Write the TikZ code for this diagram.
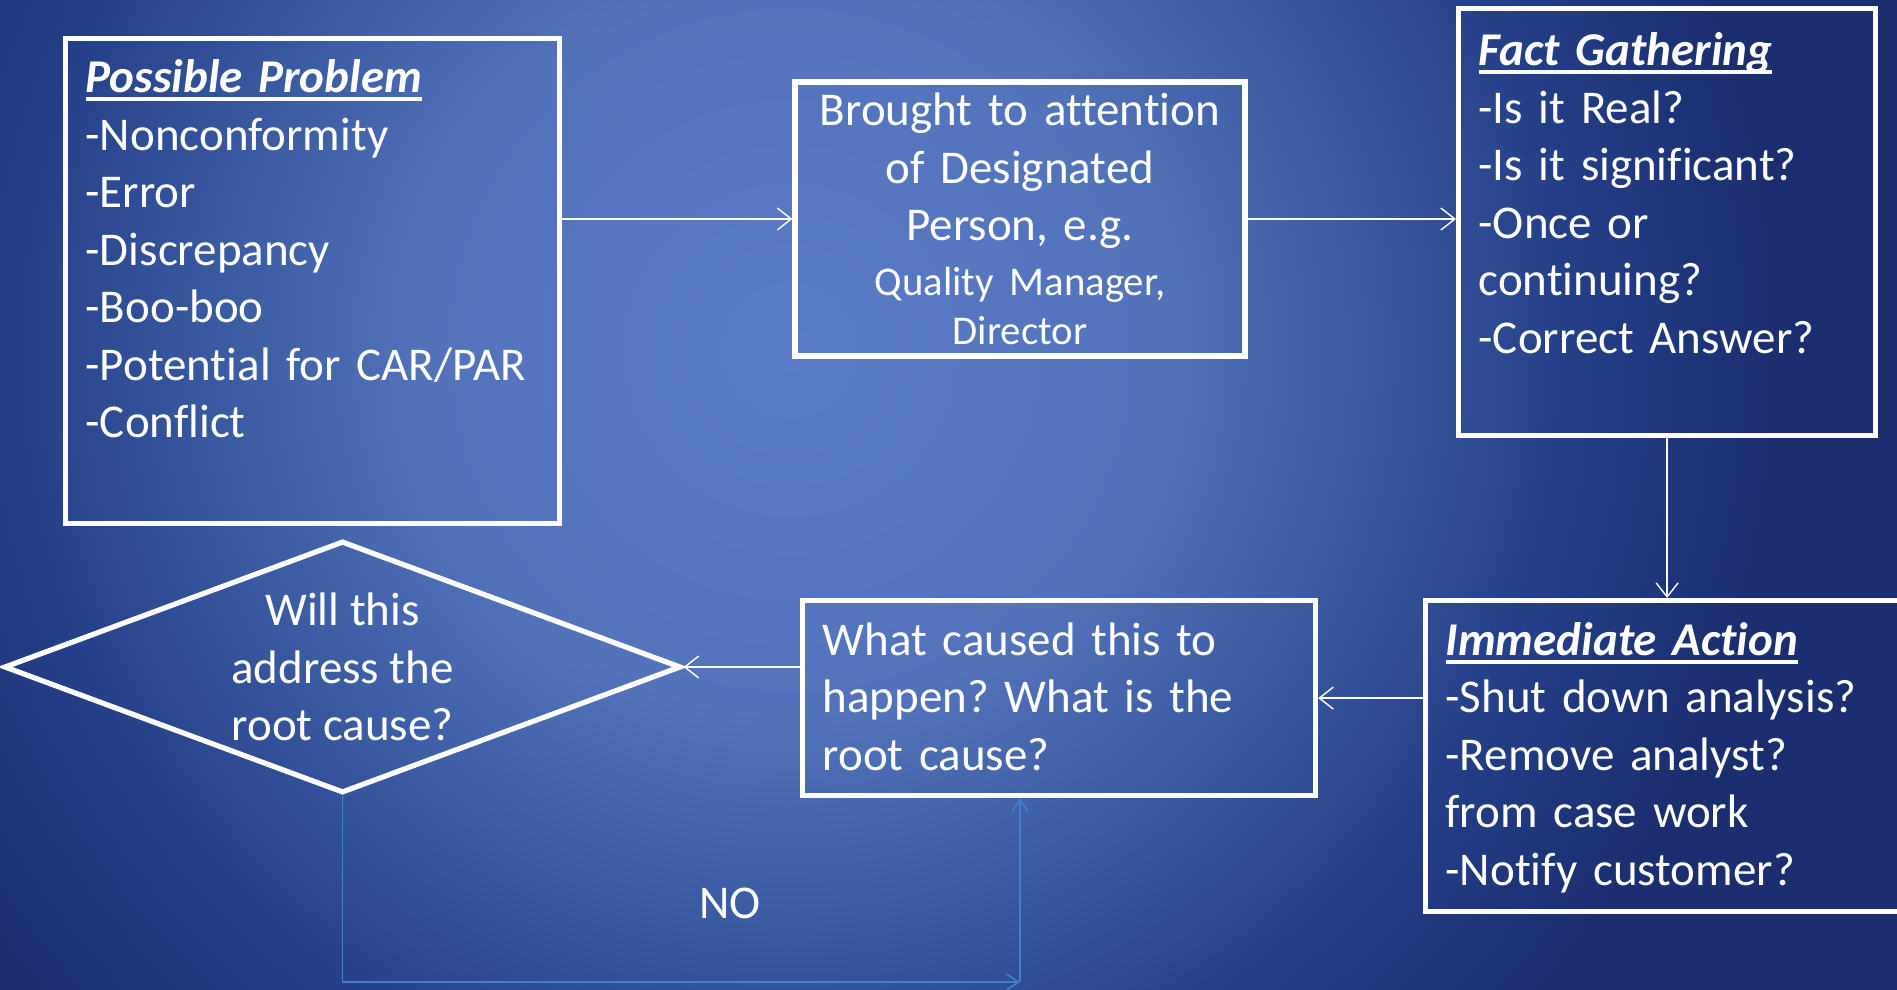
\documentclass[tikz,border=0pt]{standalone}
\usepackage{fontspec}
\setmainfont{Carlito}[Ligatures=NoCommon]
\usetikzlibrary{arrows.meta,shapes.geometric}
\definecolor{glowcore}{HTML}{5A7CC6}
\definecolor{glowmid}{HTML}{5272BA}
\definecolor{glowfade}{HTML}{3A5AA2}
\definecolor{glowedge}{HTML}{243F88}
\definecolor{glowdark}{HTML}{1B2E70}
\definecolor{noblue}{HTML}{3F82CC}
\pgfdeclareradialshading{slideglow}{\pgfpoint{0bp}{0bp}}{color(0bp)=(glowcore); color(7bp)=(glowmid); color(11bp)=(glowfade); color(15bp)=(glowedge); color(19bp)=(glowdark); color(50bp)=(glowdark)}
\newsavebox{\headbox}
\newcommand{\heading}[1]{\sbox{\headbox}{\bfseries\itshape #1}\rlap{\rule[-4.3pt]{\wd\headbox}{2.2pt}}\usebox{\headbox}}
\newcommand{\notefont}{\fontsize{20.4pt}{24pt}\selectfont}
\frenchspacing
\begin{document}
\begin{tikzpicture}[
  x=1pt, y=-1pt,
  panel/.style={draw=white, line width=2.6pt, inner xsep=10pt, inner ysep=10pt, anchor=north west, align=left, text=white, font=\fontsize{23.5pt}{28.75pt}\selectfont},
  decision/.style={diamond, draw=white, line width=2.6pt, minimum width=338.5pt, minimum height=126pt, inner sep=0pt},
  flow/.style={draw=white, line width=0.7pt, -{Straight Barb[length=7pt,width=11pt]}},
  noflow/.style={draw=noblue, line width=0.8pt, -{Straight Barb[length=6pt,width=8pt]}},
  tag/.style={text=white, align=center, font=\fontsize{23.5pt}{28.75pt}\selectfont}
]
\useasboundingbox (0,0) rectangle (948.5,495);
\begin{scope}
\clip (0,0) rectangle (948.5,495);
\shade[shading=slideglow] (-255,-475) rectangle (1045,825);
\end{scope}
\node[panel, text width=227pt, text height=17pt, text depth=205.5pt] (problem) at (31.5,18) {\heading{Possible Problem}\\-Nonconformity\\-Error\\-Discrepancy\\-Boo-boo\\-Potential for CAR/PAR\\-Conflict};
\node[panel, anchor=center, align=center, text width=205pt, inner ysep=2pt, minimum height=137pt] (notice) at (510,109.5) {Brought to attention\\of Designated\\Person, e.g.\\[-1.5pt]{\notefont Quality Manager,}\\[-4pt]{\notefont Director}};
\node[panel, text width=188.5pt, text height=18.5pt, text depth=175pt] (facts) at (728,3) {\heading{Fact Gathering}\\-Is it Real?\\-Is it significant?\\-Once or\\continuing?\\-Correct Answer?};
\node[panel, text width=240pt, text height=17.4pt, text depth=118pt] (action) at (711.5,299) {\heading{Immediate Action}\\-Shut down analysis?\\-Remove analyst?\\from case work\\-Notify customer?};
\node[panel, text width=236.5pt, text height=17.4pt, text depth=60.1pt] (cause) at (400,299) {What caused this to\\happen? What is the\\root cause?};
\node[decision] (rootq) at (171.25,333.5) {};
\node[tag] (rootqtext) at (rootq) {Will this\\address the\\root cause?};
\coordinate (loopturn) at (510,491);
\node[tag] (nolabel) at (365,451.5) {NO};
\draw[flow] (problem.east |- notice.west) -- (notice.west);
\draw[flow] (notice.east) -- (facts.west |- notice.east);
\draw[flow] (facts.south) -- (action.north -| facts.south);
\draw[flow] (action.west |- cause.east) -- (cause.east);
\draw[flow] (cause.west |- rootq.east) -- (rootq.east);
\draw[noflow] (rootq.south) |- (loopturn);
\draw[noflow] (loopturn) -- (cause.south -| loopturn);
\end{tikzpicture}
\end{document}
